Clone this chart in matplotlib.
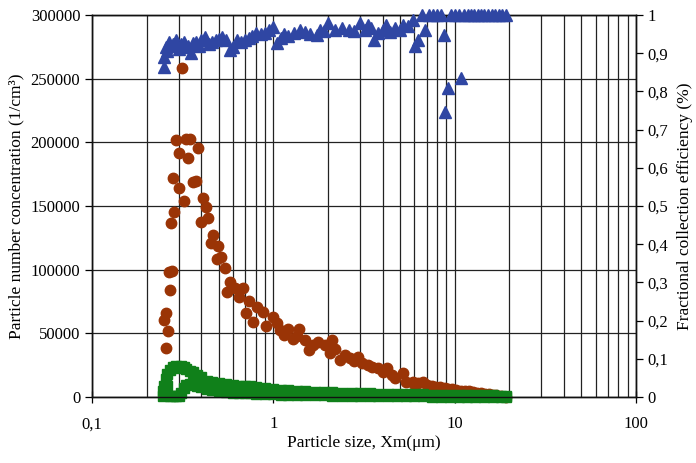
import matplotlib
matplotlib.use("Agg")
import matplotlib.pyplot as plt
from matplotlib.ticker import FixedLocator, FuncFormatter, LogLocator, NullFormatter

plt.rcParams["font.family"] = ["Liberation Serif", "DejaVu Serif"]

# particle number concentration, upstream (brown circles)
up_size = [0.250, 0.255, 0.256, 0.262, 0.266, 0.270, 0.272, 0.277, 0.280, 0.284,
           0.290, 0.302, 0.303, 0.313, 0.321, 0.330, 0.337, 0.347, 0.359, 0.374,
           0.383, 0.398, 0.409, 0.426, 0.434, 0.453, 0.463, 0.487, 0.497, 0.512,
           0.541, 0.556, 0.577, 0.614, 0.649, 0.680, 0.704, 0.730, 0.770, 0.810,
           0.880, 0.910, 1.00, 1.09, 1.20, 1.29, 1.39, 1.49, 1.57, 1.77,
           1.92, 2.05, 2.10, 2.33, 2.64, 2.94, 3.33, 3.76, 4.22, 4.70,
           5.20, 5.40, 5.90, 6.30, 6.70, 7.50, 8.30, 9.20, 10.2, 11.4,
           12.6, 14.0, 15.5, 17.0, 19.3]
up_conc = [60500, 38200, 65700, 52000, 98400, 84000, 137000, 99000, 172000, 145000,
           201800, 191500, 164000, 258000, 154000, 203000, 188000, 202600, 169000, 169500,
           195700, 137700, 156500, 149000, 140500, 121000, 127000, 108000, 118500, 110000,
           101000, 82700, 90500, 85300, 78700, 85300, 65700, 75400, 59100, 70900,
           67000, 56000, 63000, 52600, 53400, 45300, 53200, 44700, 36900, 43400,
           40800, 34300, 44700, 29000, 30400, 31600, 25100, 22500, 22500, 14700,
           18500, 12000, 12000, 10800, 11500, 9000, 8100, 6500, 5500, 4800,
           4200, 3000, 2000, 1200, 300]
# second upstream run, sizes above 1 um
up_size_b = [1.05, 1.15, 1.35, 1.65, 2.20, 2.50, 2.80, 3.10, 3.50, 4.00,
             4.50, 6.00, 7.00, 7.90, 8.80, 9.70, 10.8, 12.0, 13.3, 14.7,
             16.2, 18.0]
up_conc_b = [58000, 49000, 48000, 40500, 38000, 33000, 28000, 27000, 23500, 19500,
             17000, 10000, 9500, 8000, 7000, 6000, 5000, 4400, 3500, 2600,
             1700, 900]

# particle number concentration, downstream (green squares), two runs
dn_size = [0.245, 0.250, 0.255, 0.260, 0.270, 0.280, 0.290, 0.300, 0.310, 0.320,
           0.330, 0.345, 0.360, 0.380, 0.400, 0.430, 0.460, 0.500, 0.550, 0.600,
           0.650, 0.700, 0.740, 0.800, 0.900, 1.00, 1.10, 1.20, 1.35, 1.50,
           1.70, 1.90, 2.10, 2.40, 2.70, 3.00, 3.40, 3.80, 4.30, 4.80,
           5.40, 6.00, 6.70, 7.50, 8.40, 9.40, 10.5, 11.7, 13.0, 14.5,
           16.2, 18.0, 19.3]
dn_conc_a = [5000, 9000, 14000, 18000, 21500, 23500, 24000, 23000, 24000, 23700,
             22000, 20500, 19600, 17000, 15500, 12800, 12000, 11000, 10200, 9500,
             9000, 8800, 8600, 7800, 7000, 6300, 5500, 5200, 4800, 4500,
             4200, 4000, 3800, 3500, 3200, 3000, 2800, 2600, 2500, 2400,
             2200, 2100, 2000, 1900, 1800, 1700, 1600, 1500, 1400, 1300,
             1200, 1100, 1000]
dn_conc_b = [1000, 3000, 6000, 9000, 600, 400, 500, 800, 3500, 7000,
             9500, 10500, 11000, 9000, 7500, 6500, 5500, 4500, 4000, 3500,
             3300, 3000, 2800, 2600, 2300, 2000, 1800, 1600, 1500, 1400,
             1300, 1200, 1100, 1000, 900, 800, 700, 650, 600, 550,
             500, 450, 400, 380, 350, 330, 300, 280, 260, 240,
             220, 200, 200]

# fractional collection efficiency (blue triangles)
eff_size = [0.250, 0.250, 0.255, 0.260, 0.265, 0.270, 0.280, 0.290, 0.300, 0.310,
            0.320, 0.330, 0.340, 0.350, 0.360, 0.375, 0.390, 0.400, 0.420, 0.440,
            0.460, 0.480, 0.500, 0.520, 0.550, 0.580, 0.600, 0.630, 0.660, 0.700,
            0.730, 0.760, 0.800, 0.850, 0.900, 0.950, 1.00, 1.05, 1.10, 1.15,
            1.20, 1.30, 1.40, 1.50, 1.60, 1.74, 1.80, 1.90, 2.00, 2.20,
            2.40, 2.60, 2.80, 3.00, 3.20, 3.33, 3.45, 3.60, 3.78, 4.00,
            4.20, 4.40, 4.70, 5.00, 5.20, 5.50, 5.90, 6.05, 6.30, 6.60,
            6.90, 7.20, 7.60, 8.00, 8.40, 8.70, 8.90, 9.20, 9.50, 10.0,
            10.5, 10.9, 11.3, 11.8, 12.3, 12.8, 13.4, 14.0, 14.6, 15.3,
            16.0, 16.7, 17.5, 18.3, 19.3]
eff = [0.864, 0.890, 0.916, 0.905, 0.930, 0.920, 0.925, 0.935, 0.910, 0.925,
       0.930, 0.915, 0.920, 0.900, 0.926, 0.930, 0.920, 0.935, 0.943, 0.925,
       0.930, 0.935, 0.938, 0.943, 0.935, 0.908, 0.915, 0.935, 0.930, 0.935,
       0.940, 0.945, 0.952, 0.950, 0.952, 0.960, 0.969, 0.926, 0.940, 0.950,
       0.945, 0.952, 0.960, 0.955, 0.950, 0.948, 0.962, 0.958, 0.980, 0.960,
       0.965, 0.960, 0.958, 0.980, 0.962, 0.974, 0.965, 0.935, 0.953, 0.960,
       0.974, 0.955, 0.965, 0.960, 0.974, 0.970, 0.987, 0.920, 0.935, 1.000,
       0.960, 1.000, 1.000, 1.000, 1.000, 0.948, 0.747, 0.810, 1.000, 1.000,
       1.000, 0.834, 1.000, 1.000, 1.000, 1.000, 1.000, 1.000, 1.000, 1.000,
       1.000, 1.000, 1.000, 1.000, 1.000]

left_ticks = [0, 50000, 100000, 150000, 200000, 250000, 300000]
right_ticks = [0, 0.1, 0.2, 0.3, 0.4, 0.5, 0.6, 0.7, 0.8, 0.9, 1.0]
x_ticks = [0.1, 1, 10, 100]

brown = "#9A3406"
green = "#10801A"
blue = "#2F46A3"

fig = plt.figure(figsize=(6.96, 4.63), dpi=100)
ax = fig.add_axes([92 / 696, 66 / 463, 544 / 696, 382 / 463])

ax.plot(up_size, up_conc, "o", color=brown, ms=7.5, mec=brown, clip_on=False, zorder=3)
ax.plot(up_size_b, up_conc_b, "o", color=brown, ms=7.5, mec=brown, clip_on=False, zorder=3)
ax.plot(dn_size, dn_conc_b, "s", color=green, ms=6.5, mec=green, clip_on=False, zorder=4)
ax.plot(dn_size, dn_conc_a, "s", color=green, ms=6.5, mec=green, clip_on=False, zorder=4)

ax.set_xscale("log")
ax.set_xlim(0.1, 100)
ax.set_ylim(0, 300000)
ax.xaxis.set_major_locator(FixedLocator(x_ticks))
ax.xaxis.set_major_formatter(FuncFormatter(lambda v, p: f"{v:g}".replace(".", ",")))
ax.xaxis.set_minor_locator(LogLocator(base=10, subs=range(2, 10)))
ax.xaxis.set_minor_formatter(NullFormatter())
ax.set_yticks(left_ticks)
ax.yaxis.set_major_formatter(FuncFormatter(lambda v, p: f"{int(v)}"))

ax.grid(True, which="both", axis="x", color="#222222", lw=0.9)
ax.grid(True, which="major", axis="y", color="#222222", lw=0.9)
ax.set_axisbelow(True)
ax.tick_params(axis="x", which="minor", length=0)
ax.tick_params(axis="x", which="major", direction="inout", length=8, width=0.9, labelsize=12, pad=10)
ax.tick_params(axis="y", direction="out", length=5, width=0.9, labelsize=12)
for s in ax.spines.values():
    s.set_linewidth(1.0)
    s.set_color("#111111")

ax.set_xlabel("Particle size, Xm(μm)", fontsize=12.5, labelpad=2)
ax.set_ylabel("Particle number concentration (1/cm³)", fontsize=12.5, labelpad=4)

ax2 = ax.twinx()
ax2.plot(eff_size, eff, "^", color=blue, ms=8.5, mec=blue, clip_on=False, zorder=5)
ax2.set_ylim(0, 1)
ax2.set_yticks(right_ticks)
ax2.yaxis.set_major_formatter(FuncFormatter(lambda v, p: f"{v:g}".replace(".", ",")))
ax2.tick_params(axis="y", direction="out", length=5, width=0.9, labelsize=12)
ax2.set_ylabel("Fractional collection efficiency (%)", fontsize=12.5, labelpad=6)
for s in ax2.spines.values():
    s.set_linewidth(1.0)
    s.set_color("#111111")

plt.savefig("out.png", dpi=100)
plt.close()
